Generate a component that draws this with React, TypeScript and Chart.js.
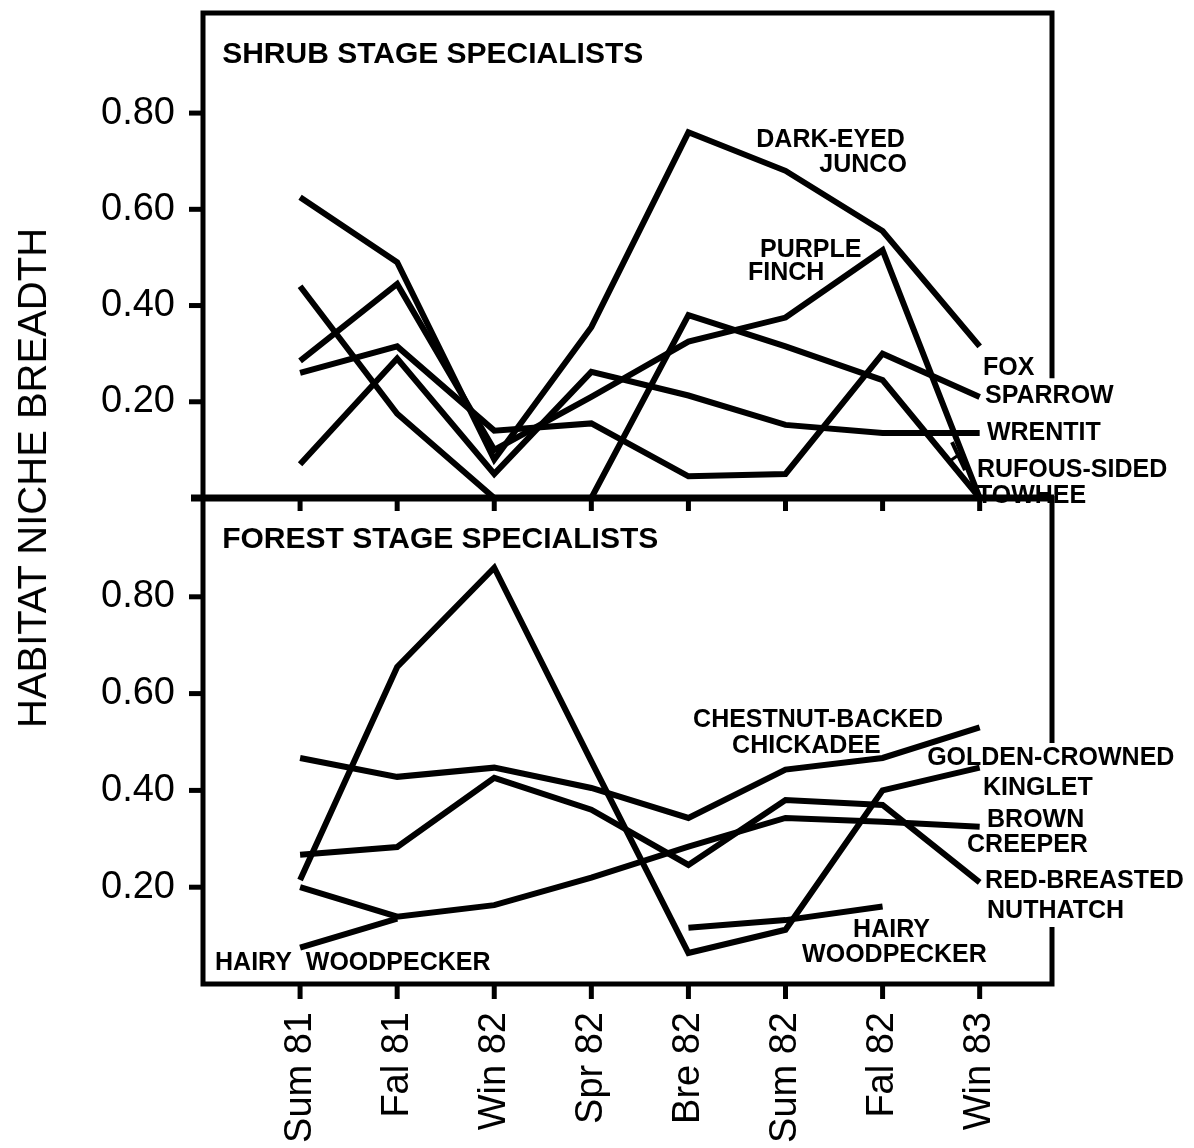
import React, { useEffect, useRef } from 'react';
import { Chart, registerables } from 'chart.js';

Chart.register(...registerables);

// ---------- data ----------
const seasons = ['Sum 81', 'Fal 81', 'Win 82', 'Spr 82', 'Bre 82', 'Sum 82', 'Fal 82', 'Win 83'];
const yTickValues = [0.2, 0.4, 0.6, 0.8];
const yTickLabels = ['0.20', '0.40', '0.60', '0.80'];

// Shrub stage specialists
const darkEyedJunco = [0.625, 0.49, 0.08, 0.355, 0.76, 0.68, 0.555, 0.315];
const purpleFinch = [0.285, 0.445, 0.1, 0.21, 0.325, 0.375, 0.515, 0.0];
const foxSparrow = [0.26, 0.315, 0.14, 0.155, 0.045, 0.05, 0.3, 0.21];
const wrentit = [0.07, 0.29, 0.05, 0.262, 0.213, 0.152, 0.135, 0.135];
const rufousSidedTowhee = [0.44, 0.175, 0.0, 0.0, 0.38, 0.315, 0.245, 0.0];

// Forest stage specialists
const goldenCrownedKinglet = [0.215, 0.655, 0.86, 0.46, 0.064, 0.112, 0.4, 0.447];
const chestnutBackedChickadee = [0.467, 0.428, 0.447, 0.405, 0.343, 0.443, 0.467, 0.53];
const redBreastedNuthatch = [0.267, 0.283, 0.426, 0.36, 0.246, 0.38, 0.37, 0.21];
const brownCreeper = [0.2, 0.139, 0.163, 0.22, 0.284, 0.343, 0.335, 0.325];
const hairyWoodpecker: (number | null)[] = [0.075, 0.135, null, null, 0.116, 0.132, 0.16, null];

const shrubSeries = [
  { name: 'Dark-eyed Junco', values: darkEyedJunco },
  { name: 'Purple Finch', values: purpleFinch },
  { name: 'Fox Sparrow', values: foxSparrow },
  { name: 'Wrentit', values: wrentit },
  { name: 'Rufous-sided Towhee', values: rufousSidedTowhee },
];
const forestSeries = [
  { name: 'Golden-crowned Kinglet', values: goldenCrownedKinglet },
  { name: 'Chestnut-backed Chickadee', values: chestnutBackedChickadee },
  { name: 'Red-breasted Nuthatch', values: redBreastedNuthatch },
  { name: 'Brown Creeper', values: brownCreeper },
  { name: 'Hairy Woodpecker', values: hairyWoodpecker },
];

// ---------- text annotations (position in axis units) ----------
type Ann = { text: string; i: number; v: number; align: CanvasTextAlign; size: number };
const shrubLabels: Ann[] = [
  { text: 'SHRUB STAGE SPECIALISTS', i: -0.803, v: 0.904, align: 'left', size: 30 },
  { text: 'DARK-EYED', i: 6.23, v: 0.729, align: 'right', size: 25 },
  { text: 'JUNCO', i: 6.25, v: 0.677, align: 'right', size: 25 },
  { text: 'PURPLE', i: 4.737, v: 0.501, align: 'left', size: 25 },
  { text: 'FINCH', i: 4.614, v: 0.453, align: 'left', size: 25 },
  { text: 'FOX', i: 7.034, v: 0.2556, align: 'left', size: 25 },
  { text: 'SPARROW', i: 7.055, v: 0.197, align: 'left', size: 25 },
  { text: 'WRENTIT', i: 7.075, v: 0.1205, align: 'left', size: 25 },
  { text: 'RUFOUS-SIDED', i: 6.972, v: 0.0436, align: 'left', size: 25 },
  { text: 'TOWHEE', i: 6.972, v: -0.0104, align: 'left', size: 25 },
];
const forestLabels: Ann[] = [
  { text: 'FOREST STAGE SPECIALISTS', i: -0.803, v: 0.9008, align: 'left', size: 30 },
  { text: 'CHESTNUT-BACKED', i: 4.048, v: 0.531, align: 'left', size: 25 },
  { text: 'CHICKADEE', i: 4.45, v: 0.477, align: 'left', size: 25 },
  { text: 'GOLDEN-CROWNED', i: 6.459, v: 0.4525, align: 'left', size: 25 },
  { text: 'KINGLET', i: 7.035, v: 0.3905, align: 'left', size: 25 },
  { text: 'BROWN', i: 7.076, v: 0.3244, align: 'left', size: 25 },
  { text: 'CREEPER', i: 6.87, v: 0.2727, align: 'left', size: 25 },
  { text: 'RED-BREASTED', i: 7.056, v: 0.198, align: 'left', size: 25 },
  { text: 'NUTHATCH', i: 7.076, v: 0.1364, align: 'left', size: 25 },
  { text: 'HAIRY', i: 5.696, v: 0.0971, align: 'left', size: 25 },
  { text: 'WOODPECKER', i: 5.171, v: 0.0455, align: 'left', size: 25 },
  { text: 'HAIRY  WOODPECKER', i: -0.876, v: 0.0289, align: 'left', size: 25 },
];

const X_MIN = -1;
const X_MAX = 7.745;
const FONT = '"Liberation Sans", Arial, Helvetica, sans-serif';

function line(ctx: CanvasRenderingContext2D, pts: number[][], w: number) {
  ctx.beginPath();
  ctx.lineWidth = w;
  ctx.moveTo(pts[0][0], pts[0][1]);
  for (let k = 1; k < pts.length; k++) ctx.lineTo(pts[k][0], pts[k][1]);
  ctx.stroke();
}

function drawLabels(chart: any, labels: Ann[]) {
  const { ctx } = chart;
  const x = chart.scales.x;
  const y = chart.scales.y;
  ctx.fillStyle = '#000';
  ctx.textBaseline = 'alphabetic';
  for (const a of labels) {
    ctx.font = `bold ${a.size}px ${FONT}`;
    ctx.textAlign = a.align;
    ctx.fillText(a.text, x.getPixelForValue(a.i), y.getPixelForValue(a.v));
  }
}

const topFrame = {
  id: 'topFrame',
  afterDraw(chart: any) {
    const { ctx, chartArea } = chart;
    const { left: L, right: R, top: T, bottom: B } = chartArea;
    const x = chart.scales.x;
    const y = chart.scales.y;
    ctx.save();
    ctx.strokeStyle = '#000';
    ctx.lineJoin = 'miter';
    ctx.lineCap = 'butt';
    // frame
    line(ctx, [[R, y.getPixelForValue(0.249)], [R, T], [L, T], [L, B]], 5);
    // divider
    line(ctx, [[L - 12, B], [R + 2, B]], 7);
    // y ticks
    for (const v of yTickValues) {
      const py = y.getPixelForValue(v);
      line(ctx, [[L - 14, py], [L, py]], 5);
    }
    // x ticks below divider
    for (let i = 0; i < seasons.length; i++) {
      const px = x.getPixelForValue(i);
      line(ctx, [[px, B], [px, B + 13]], 5);
    }
    // pointer arrow next to towhee label
    line(ctx, [[x.getPixelForValue(6.715), y.getPixelForValue(0.116)], [x.getPixelForValue(6.85), y.getPixelForValue(0.058)]], 4);
    line(ctx, [[x.getPixelForValue(6.7), y.getPixelForValue(0.078)], [x.getPixelForValue(6.8), y.getPixelForValue(0.092)]], 3);
    drawLabels(chart, shrubLabels);
    ctx.restore();
  },
};

const bottomFrame = {
  id: 'bottomFrame',
  afterDraw(chart: any) {
    const { ctx, chartArea } = chart;
    const { left: L, right: R, top: T, bottom: B } = chartArea;
    const x = chart.scales.x;
    const y = chart.scales.y;
    ctx.save();
    ctx.strokeStyle = '#000';
    ctx.lineJoin = 'miter';
    ctx.lineCap = 'butt';
    line(ctx, [[L, T - 4], [L, B], [R, B], [R, y.getPixelForValue(0.118)]], 5);
    line(ctx, [[R, T - 4], [R, y.getPixelForValue(0.498)]], 5);
    for (const v of yTickValues) {
      const py = y.getPixelForValue(v);
      line(ctx, [[L - 14, py], [L, py]], 5);
    }
    for (let i = 0; i < seasons.length; i++) {
      const px = x.getPixelForValue(i);
      line(ctx, [[px, B], [px, B + 15]], 5);
    }
    drawLabels(chart, forestLabels);
    ctx.restore();
  },
};

function makeDatasets(series: { name: string; values: (number | null)[] }[]) {
  return series.map((s) => ({
    label: s.name,
    data: s.values.map((v, i) => ({ x: i, y: v })),
    borderColor: '#000',
    backgroundColor: '#000',
    borderWidth: 6,
    pointRadius: 0,
    pointHoverRadius: 0,
    fill: false,
    tension: 0,
    spanGaps: false,
    borderJoinStyle: 'miter' as const,
  }));
}

function yTickCallback(value: any) {
  const idx = yTickValues.findIndex((t) => Math.abs(t - Number(value)) < 1e-6);
  return idx >= 0 ? yTickLabels[idx] : '';
}

function xTickCallback(value: any) {
  const v = Number(value);
  if (Math.abs(v - Math.round(v)) < 1e-6 && v >= 0 && v < seasons.length) return seasons[Math.round(v)];
  return '';
}

export default function App() {
  const topRef = useRef<HTMLCanvasElement>(null);
  const botRef = useRef<HTMLCanvasElement>(null);

  useEffect(() => {
    const common = {
      responsive: false,
      maintainAspectRatio: false,
      animation: false as const,
      events: [] as any[],
      plugins: { legend: { display: false }, tooltip: { enabled: false } },
    };
    const yAxis = (max: number) => ({
      type: 'linear' as const,
      min: 0,
      max,
      afterBuildTicks: (s: any) => {
        s.ticks = yTickValues.map((v) => ({ value: v }));
      },
      afterFit: (s: any) => {
        s.width = 203;
        s.paddingTop = 0;
        s.paddingBottom = 0;
        s.paddingLeft = 0;
        s.paddingRight = 0;
      },
      grid: { display: false, drawTicks: false },
      border: { display: false },
      ticks: {
        padding: 28,
        color: '#000',
        font: { family: FONT, size: 38 },
        callback: yTickCallback,
      },
    });

    const top = new Chart(topRef.current!, {
      type: 'line',
      data: { datasets: makeDatasets(shrubSeries) as any },
      options: {
        ...common,
        layout: { padding: { left: 0, right: 142, top: 13, bottom: 17 } },
        scales: {
          x: { type: 'linear', min: X_MIN, max: X_MAX, display: false },
          y: yAxis(1.008) as any,
        },
      } as any,
      plugins: [topFrame],
    });

    const bot = new Chart(botRef.current!, {
      type: 'line',
      data: { datasets: makeDatasets(forestSeries) as any },
      options: {
        ...common,
        layout: { padding: { left: 0, right: 142, top: 10, bottom: 0 } },
        scales: {
          x: {
            type: 'linear',
            min: X_MIN,
            max: X_MAX,
            afterBuildTicks: (s: any) => {
              s.ticks = seasons.map((_, i) => ({ value: i }));
            },
            afterFit: (s: any) => {
              s.height = 164;
              s.paddingTop = 0;
              s.paddingBottom = 0;
              s.paddingLeft = 0;
              s.paddingRight = 0;
            },
            grid: { display: false, drawTicks: false },
            border: { display: false },
            ticks: {
              autoSkip: false,
              minRotation: 90,
              maxRotation: 90,
              padding: 28,
              color: '#000',
              font: { family: FONT, size: 38 },
              callback: xTickCallback,
            },
          },
          y: yAxis(1.0) as any,
        },
      } as any,
      plugins: [bottomFrame],
    });

    return () => {
      top.destroy();
      bot.destroy();
    };
  }, []);

  return (
    <div
      style={{
        position: 'absolute',
        left: 0,
        top: 0,
        width: 1194,
        height: 1148,
        background: '#fff',
        overflow: 'hidden',
      }}
    >
      <canvas
        ref={topRef}
        width={1194}
        height={515}
        style={{ position: 'absolute', left: 0, top: 0, width: 1194, height: 515 }}
      />
      <canvas
        ref={botRef}
        width={1194}
        height={658}
        style={{ position: 'absolute', left: 0, top: 490, width: 1194, height: 658 }}
      />
      <div
        style={{
          position: 'absolute',
          left: 32,
          top: 478,
          transform: 'translate(-50%, -50%) rotate(-90deg)',
          font: `40px ${FONT}`,
          lineHeight: 1,
          whiteSpace: 'nowrap',
          color: '#000',
        }}
      >
        HABITAT NICHE BREADTH
      </div>
    </div>
  );
}
